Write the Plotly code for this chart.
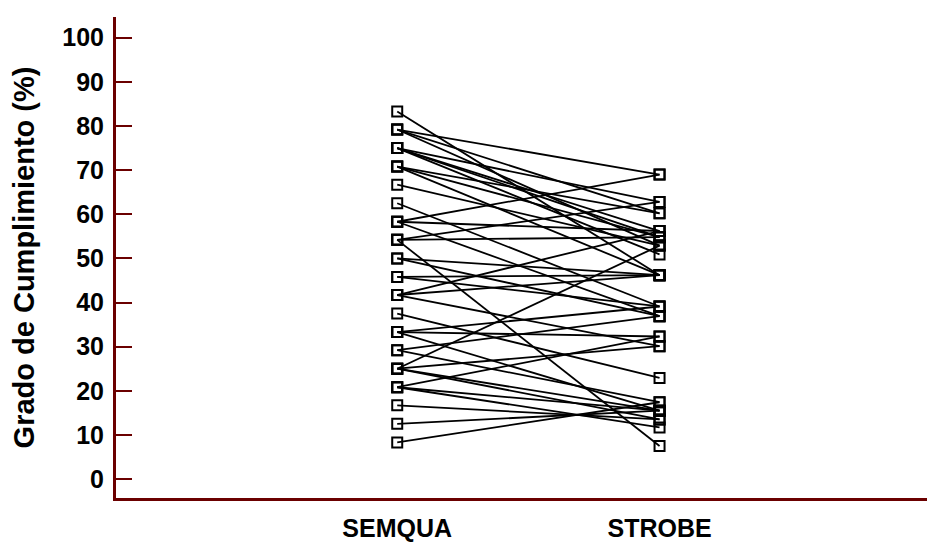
import plotly.graph_objects as go

categories = ["SEMQUA", "STROBE"]
y_ticks = [0, 10, 20, 30, 40, 50, 60, 70, 80, 90, 100]

# paired scores (SEMQUA -> STROBE), one entry per study
semqua = [83.3, 79.2, 79.2, 79.2, 75.0, 75.0, 75.0, 75.0, 70.8, 70.8, 70.8,
          66.7, 62.5, 58.3, 58.3, 58.3, 54.2, 54.2, 54.2, 50.0, 50.0,
          45.8, 45.8, 41.7, 41.7, 41.7, 37.5, 33.3, 33.3, 33.3, 29.2, 29.2,
          25.0, 25.0, 25.0, 25.0, 20.8, 20.8, 20.8, 16.7, 12.5, 8.3]
strobe = [46.2, 69.0, 60.2, 52.9, 62.8, 56.2, 54.8, 50.9, 60.2, 54.8, 46.2,
          52.9, 39.1, 69.0, 56.2, 36.9, 62.8, 54.8, 7.5, 46.2, 36.9,
          39.1, 46.2, 56.2, 46.2, 30.1, 22.9, 39.1, 32.3, 15.5, 36.9, 17.4,
          52.9, 30.1, 15.5, 13.5, 32.3, 15.5, 11.7, 13.5, 15.5, 17.4]

axis_color = "#6b0000"

xs, ys = [], []
for a, b in zip(semqua, strobe):
    xs += [1, 2, None]
    ys += [a, b, None]

fig = go.Figure()
fig.add_trace(go.Scatter(x=xs, y=ys, mode="lines",
                         line=dict(color="black", width=1.8),
                         hoverinfo="skip", showlegend=False))
fig.add_trace(go.Scatter(x=[1] * len(semqua), y=semqua, mode="markers",
                         marker=dict(symbol="square-open", size=10, color="black",
                                     line=dict(width=2, color="black")),
                         showlegend=False))
fig.add_trace(go.Scatter(x=[2] * len(strobe), y=strobe, mode="markers",
                         marker=dict(symbol="square-open", size=10, color="black",
                                     line=dict(width=2, color="black")),
                         showlegend=False))

fig.update_layout(
    width=927, height=534,
    margin=dict(l=108, r=0, t=9, b=40),
    paper_bgcolor="white", plot_bgcolor="white",
    font=dict(family="Liberation Sans, Arial, sans-serif", color="black"),
    xaxis=dict(range=[-0.072, 3.05], tickvals=[1, 2], ticktext=categories,
               showgrid=False, zeroline=False, showline=True,
               linecolor=axis_color, linewidth=3, ticks="",
               tickfont=dict(size=25, weight="bold"), ticklabelstandoff=6),
    yaxis=dict(range=[-4.3, 104.7], tickvals=y_ticks,
               showgrid=False, zeroline=False, showline=True,
               linecolor=axis_color, linewidth=3,
               ticks="inside", ticklen=16, tickwidth=2, tickcolor=axis_color,
               tickfont=dict(size=25, weight="bold"), ticklabelstandoff=4,
               title=dict(text="Grado de Cumplimiento (%)",
                          font=dict(size=29, weight="bold"), standoff=24)),
)

fig.write_html("out.html")
